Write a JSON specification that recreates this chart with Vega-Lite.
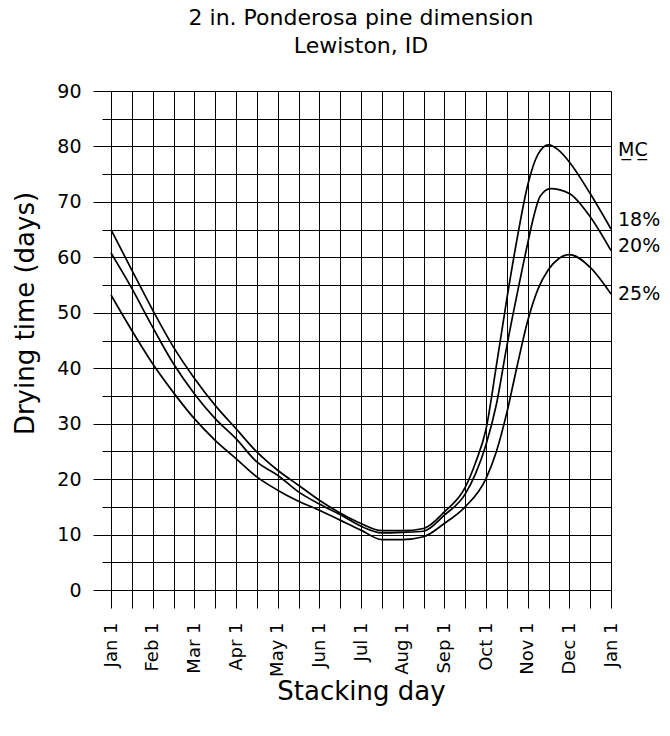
{
  "$schema": "https://vega.github.io/schema/vega-lite/v6.json",
  "autosize": {"type": "none"},
  "width": 500,
  "height": 499,
  "padding": {"left": 111, "top": 91, "right": 59, "bottom": 146},
  "background": "white",
  "config": {
    "font": "DejaVu Sans",
    "view": {"stroke": null}
  },
  "title": {
    "text": ["2 in. Ponderosa pine dimension", "Lewiston, ID"],
    "fontSize": 22,
    "fontWeight": "normal",
    "font": "DejaVu Sans",
    "color": "black",
    "lineHeight": 28,
    "anchor": "middle",
    "offset": 24
  },
  "datasets": {
    "curves": [
      {"month": 0, "days": 65, "mc": "18%"},
      {"month": 0.5, "days": 57.7, "mc": "18%"},
      {"month": 1, "days": 50.5, "mc": "18%"},
      {"month": 1.5, "days": 43.8, "mc": "18%"},
      {"month": 2, "days": 38.2, "mc": "18%"},
      {"month": 2.5, "days": 33.3, "mc": "18%"},
      {"month": 3, "days": 29.1, "mc": "18%"},
      {"month": 3.5, "days": 24.9, "mc": "18%"},
      {"month": 4, "days": 21.6, "mc": "18%"},
      {"month": 4.5, "days": 18.9, "mc": "18%"},
      {"month": 5, "days": 16.2, "mc": "18%"},
      {"month": 5.5, "days": 13.9, "mc": "18%"},
      {"month": 6, "days": 12.0, "mc": "18%"},
      {"month": 6.5, "days": 10.7, "mc": "18%"},
      {"month": 7, "days": 10.7, "mc": "18%"},
      {"month": 7.5, "days": 11.1, "mc": "18%"},
      {"month": 8, "days": 14.1, "mc": "18%"},
      {"month": 8.5, "days": 18.5, "mc": "18%"},
      {"month": 8.75, "days": 23, "mc": "18%"},
      {"month": 9, "days": 29, "mc": "18%"},
      {"month": 9.25, "days": 40.5, "mc": "18%"},
      {"month": 9.5, "days": 52.5, "mc": "18%"},
      {"month": 9.75, "days": 63.5, "mc": "18%"},
      {"month": 10, "days": 73, "mc": "18%"},
      {"month": 10.25, "days": 78.6, "mc": "18%"},
      {"month": 10.5, "days": 80.3, "mc": "18%"},
      {"month": 10.75, "days": 79.3, "mc": "18%"},
      {"month": 11, "days": 77.2, "mc": "18%"},
      {"month": 11.5, "days": 71.5, "mc": "18%"},
      {"month": 12, "days": 65.1, "mc": "18%"},
      {"month": 0, "days": 60.8, "mc": "20%"},
      {"month": 0.5, "days": 54.4, "mc": "20%"},
      {"month": 1, "days": 47.4, "mc": "20%"},
      {"month": 1.5, "days": 40.8, "mc": "20%"},
      {"month": 2, "days": 35.4, "mc": "20%"},
      {"month": 2.5, "days": 30.9, "mc": "20%"},
      {"month": 3, "days": 27.3, "mc": "20%"},
      {"month": 3.5, "days": 23.1, "mc": "20%"},
      {"month": 4, "days": 20.7, "mc": "20%"},
      {"month": 4.5, "days": 17.7, "mc": "20%"},
      {"month": 5, "days": 15.5, "mc": "20%"},
      {"month": 5.5, "days": 13.6, "mc": "20%"},
      {"month": 6, "days": 11.5, "mc": "20%"},
      {"month": 6.5, "days": 10.3, "mc": "20%"},
      {"month": 7, "days": 10.4, "mc": "20%"},
      {"month": 7.5, "days": 10.6, "mc": "20%"},
      {"month": 8, "days": 13.5, "mc": "20%"},
      {"month": 8.5, "days": 17.3, "mc": "20%"},
      {"month": 8.75, "days": 21, "mc": "20%"},
      {"month": 9, "days": 26.2, "mc": "20%"},
      {"month": 9.25, "days": 33.5, "mc": "20%"},
      {"month": 9.5, "days": 44, "mc": "20%"},
      {"month": 9.75, "days": 53.5, "mc": "20%"},
      {"month": 10, "days": 62.5, "mc": "20%"},
      {"month": 10.15, "days": 67.5, "mc": "20%"},
      {"month": 10.3, "days": 71, "mc": "20%"},
      {"month": 10.55, "days": 72.4, "mc": "20%"},
      {"month": 11, "days": 71.5, "mc": "20%"},
      {"month": 11.5, "days": 67.3, "mc": "20%"},
      {"month": 12, "days": 61.2, "mc": "20%"},
      {"month": 0, "days": 53.2, "mc": "25%"},
      {"month": 0.5, "days": 46.8, "mc": "25%"},
      {"month": 1, "days": 40.8, "mc": "25%"},
      {"month": 1.5, "days": 35.6, "mc": "25%"},
      {"month": 2, "days": 30.9, "mc": "25%"},
      {"month": 2.5, "days": 27.0, "mc": "25%"},
      {"month": 3, "days": 23.7, "mc": "25%"},
      {"month": 3.5, "days": 20.4, "mc": "25%"},
      {"month": 4, "days": 18.0, "mc": "25%"},
      {"month": 4.5, "days": 16.0, "mc": "25%"},
      {"month": 5, "days": 14.4, "mc": "25%"},
      {"month": 5.5, "days": 12.6, "mc": "25%"},
      {"month": 6, "days": 10.8, "mc": "25%"},
      {"month": 6.5, "days": 9.1, "mc": "25%"},
      {"month": 7, "days": 9.1, "mc": "25%"},
      {"month": 7.5, "days": 9.6, "mc": "25%"},
      {"month": 8, "days": 12.0, "mc": "25%"},
      {"month": 8.5, "days": 15.0, "mc": "25%"},
      {"month": 9, "days": 20.1, "mc": "25%"},
      {"month": 9.25, "days": 25, "mc": "25%"},
      {"month": 9.5, "days": 32, "mc": "25%"},
      {"month": 9.75, "days": 40.5, "mc": "25%"},
      {"month": 10, "days": 48.5, "mc": "25%"},
      {"month": 10.25, "days": 54.3, "mc": "25%"},
      {"month": 10.5, "days": 57.8, "mc": "25%"},
      {"month": 10.75, "days": 59.8, "mc": "25%"},
      {"month": 11, "days": 60.5, "mc": "25%"},
      {"month": 11.5, "days": 58.2, "mc": "25%"},
      {"month": 12, "days": 53.4, "mc": "25%"}
    ],
    "labels": [
      {"month": 12, "days": 79.3, "text": "M̲C̲"},
      {"month": 12, "days": 66.8, "text": "18%"},
      {"month": 12, "days": 62.0, "text": "20%"},
      {"month": 12, "days": 53.3, "text": "25%"}
    ]
  },
  "encoding": {
    "x": {
      "field": "month",
      "type": "quantitative",
      "scale": {"domain": [0, 12], "nice": false, "zero": false},
      "axis": {
        "values": [0, 0.5, 1, 1.5, 2, 2.5, 3, 3.5, 4, 4.5, 5, 5.5, 6, 6.5, 7, 7.5, 8, 8.5, 9, 9.5, 10, 10.5, 11, 11.5, 12],
        "labelExpr": "datum.value % 1 === 0 ? ['Jan 1','Feb 1','Mar 1','Apr 1','May 1','Jun 1','Jul 1','Aug 1','Sep 1','Oct 1','Nov 1','Dec 1','Jan 1'][datum.value] : ''",
        "labelAngle": 270,
        "labelAlign": "right",
        "labelBaseline": "middle",
        "labelFontSize": 18,
        "labelColor": "black",
        "labelPadding": 14,
        "labelOverlap": false,
        "labelBound": false,
        "labelFlush": false,
        "tickSize": 18,
        "tickColor": "black",
        "tickWidth": 1,
        "grid": true,
        "gridColor": "black",
        "gridOpacity": 1,
        "gridWidth": 1,
        "domain": false,
        "title": "Stacking day",
        "titleFontSize": 26,
        "titleFontWeight": "normal",
        "titleColor": "black",
        "titlePadding": 2
      }
    },
    "y": {
      "field": "days",
      "type": "quantitative",
      "scale": {"domain": [0, 90], "nice": false},
      "axis": {
        "values": [0, 5, 10, 15, 20, 25, 30, 35, 40, 45, 50, 55, 60, 65, 70, 75, 80, 85, 90],
        "labelExpr": "datum.value % 10 === 0 ? datum.label : ''",
        "labelFontSize": 19,
        "labelColor": "black",
        "labelPadding": 12,
        "labelOverlap": false,
        "labelBound": false,
        "labelFlush": false,
        "tickSize": {"condition": {"test": "datum.value % 10 === 0", "value": 18}, "value": 9},
        "tickColor": "black",
        "tickWidth": 1,
        "grid": true,
        "gridColor": "black",
        "gridOpacity": 1,
        "gridWidth": 1,
        "domain": true,
        "domainColor": "black",
        "title": "Drying time (days)",
        "titleFontSize": 26,
        "titleFontWeight": "normal",
        "titleColor": "black",
        "titlePadding": 18,
        "titleY": 222
      }
    }
  },
  "layer": [
    {
      "data": {"name": "curves"},
      "mark": {"type": "line", "color": "black", "strokeWidth": 1.7, "interpolate": "monotone"},
      "encoding": {
        "detail": {"field": "mc"}
      }
    },
    {
      "data": {"name": "labels"},
      "mark": {"type": "text", "align": "left", "baseline": "middle", "dx": 7, "fontSize": 19, "color": "black", "clip": false},
      "encoding": {
        "text": {"field": "text"}
      }
    }
  ]
}
